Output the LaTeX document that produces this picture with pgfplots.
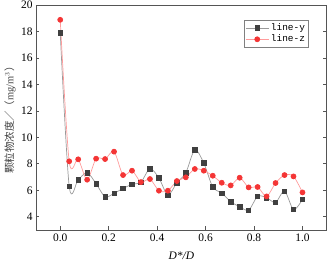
\documentclass[border=0pt]{standalone}
\usepackage{fontspec}
\setmainfont{Liberation Serif}
\setmonofont{Liberation Mono}
\newfontfamily\cjk{Noto Sans CJK SC}
\usepackage{pgfplots}
\pgfplotsset{compat=1.18}
\definecolor{ygray}{HTML}{404040}
\definecolor{ylinec}{HTML}{9A9A9A}
\definecolor{zred}{HTML}{F43535}
\definecolor{zline}{HTML}{FF9C9C}
\definecolor{framec}{HTML}{555555}
\begin{document}
\begin{tikzpicture}
\begin{axis}[
  name=ax,
  width=290.7bp, height=225bp, scale only axis,
  xmin=-0.1, xmax=1.1, ymin=3, ymax=20,
  xtick={0,0.2,0.4,0.6,0.8,1.0},
  ytick={4,6,8,10,12,14,16,18,20},
  xticklabel style={/pgf/number format/fixed,/pgf/number format/fixed zerofill,/pgf/number format/precision=1},
  /pgf/number format/assume math mode=true,
  tick align=inside,
  xtick pos=left, ytick pos=both,
  major tick length=3.5bp,
  axis line style={framec, line width=0.8bp},
  every tick/.style={framec, line width=0.7bp},
  tick label style={font=\fontsize{11.5}{13}\selectfont},
  xlabel={\textit{D*/D}},
  xlabel style={at={(axis description cs:0.5,-0.1156)}, anchor=center, font=\fontsize{11.5}{13}\selectfont},
  ylabel={\fontsize{10.5}{12}\selectfont{\cjk 颗粒物浓度／（}mg/m$^{3}${\cjk ）}},
  ylabel style={at={(axis description cs:-0.089,0.5)}, anchor=center, color=black!75},
  legend style={at={(axis description cs:0.938,0.933)}, anchor=north east,
    draw=gray, font=\ttfamily\fontsize{9.5}{11}\selectfont, inner sep=1.5pt, row sep=-1pt},
  legend cell align=left,
  legend image code/.code={
    \draw[#1] (0cm,0cm) -- (0.8cm,0cm);
    \draw[#1, only marks] plot coordinates {(0.4cm,0cm)};
  },
]
\addplot[ylinec, line width=0.7bp, smooth, tension=0.5, mark=square*, mark size=2.2bp,
  mark options={draw=ygray, fill=ygray, solid}] coordinates {
(0,17.9) (0.037,6.32) (0.0741,6.80) (0.1111,7.33) (0.1481,6.50) (0.1852,5.51)
(0.2222,5.77) (0.2593,6.14) (0.2963,6.45) (0.3333,6.62) (0.3704,7.63) (0.4074,6.93)
(0.4444,5.64) (0.4815,6.57) (0.5185,7.33) (0.5556,9.05) (0.5926,8.06) (0.6296,6.25)
(0.6667,5.79) (0.7037,5.14) (0.7407,4.76) (0.7778,4.50) (0.8148,5.54) (0.8519,5.44)
(0.8889,5.08) (0.9259,5.94) (0.963,4.55) (1.0,5.31)
};
\addlegendentry{line-y}
\addplot[zline, line width=0.7bp, smooth, tension=0.5, mark=*, mark size=2.5bp,
  mark options={draw=zred, fill=zred, solid}] coordinates {
(0,18.88) (0.037,8.19) (0.0741,8.34) (0.1111,6.80) (0.1481,8.39) (0.1852,8.36)
(0.2222,8.92) (0.2593,7.15) (0.2963,7.48) (0.3333,6.62) (0.3704,6.85) (0.4074,5.97)
(0.4444,5.97) (0.4815,6.70) (0.5185,6.98) (0.5556,7.61) (0.5926,7.48) (0.6296,7.10)
(0.6667,6.57) (0.7037,6.37) (0.7407,6.95) (0.7778,6.22) (0.8148,6.25) (0.8519,5.54)
(0.8889,6.55) (0.9259,7.15) (0.963,7.05) (1.0,5.84)
};
\addlegendentry{line-z}
\end{axis}
\pgfresetboundingbox
\path ([shift={(-36bp,-37bp)}]ax.south west) rectangle ([shift={(4.3bp,5bp)}]ax.north east);
\end{tikzpicture}
\end{document}
